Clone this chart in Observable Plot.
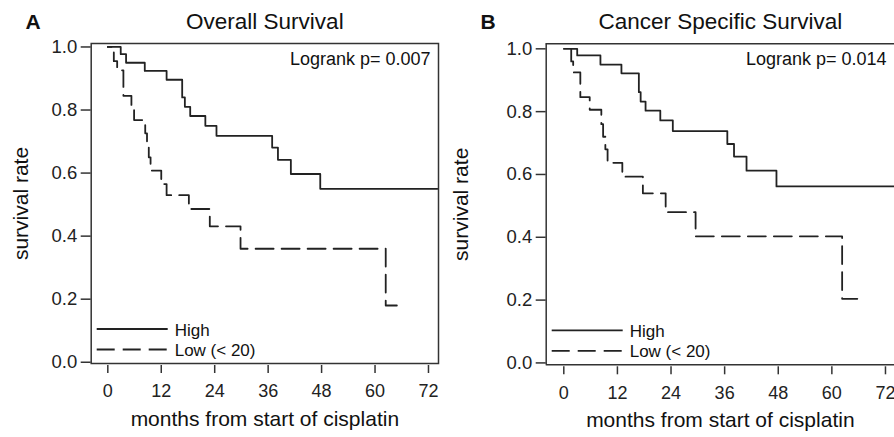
<!DOCTYPE html>
<html><head><meta charset="utf-8">
<script src="https://cdn.jsdelivr.net/npm/d3@7"></script>
<script src="https://cdn.jsdelivr.net/npm/@observablehq/plot@0.6"></script>
<style>
body{margin:0;background:#fff;}
#wrap{display:flex;width:894px;height:437px;overflow:hidden;}
</style></head><body><div id="wrap"></div>
<script>
const monthTicks = [0, 12, 24, 36, 48, 60, 72];
const rateTicks = [0, 0.2, 0.4, 0.6, 0.8, 1.0];
const groups = ["High", "Low (< 20)"];

// Panel A: Overall Survival
const osHighT = [0, 2.9, 4.1, 8.3, 13.2, 16.7, 17.3, 18.5, 21.9, 24.4, 36.9, 38.2, 41.1, 47.7, 74];
const osHighS = [1, 0.977, 0.95, 0.924, 0.896, 0.84, 0.81, 0.781, 0.75, 0.718, 0.681, 0.642, 0.597, 0.55, 0.55];
const osLowT = [0, 1.35, 2.1, 3.5, 5.3, 5.9, 8.4, 8.8, 9.2, 9.6, 12.0, 13.2, 18.2, 22.9, 29.8, 62.4, 64.9];
const osLowS = [1, 0.955, 0.926, 0.845, 0.81, 0.768, 0.726, 0.688, 0.65, 0.608, 0.565, 0.53, 0.486, 0.431, 0.36, 0.18, 0.18];

// Panel B: Cancer Specific Survival
const csHighT = [0, 3.0, 8.2, 12.9, 16.8, 17.2, 18.3, 21.6, 24.4, 36.6, 38.1, 40.9, 47.6, 74];
const csHighS = [1, 0.979, 0.95, 0.922, 0.862, 0.832, 0.803, 0.772, 0.738, 0.697, 0.657, 0.612, 0.562, 0.562];
const csLowT = [0, 1.66, 2.1, 3.7, 5.8, 8.4, 8.8, 9.3, 9.8, 13.1, 17.7, 22.8, 29.5, 62.3, 65.7];
const csLowS = [1, 0.96, 0.925, 0.846, 0.806, 0.76, 0.72, 0.68, 0.637, 0.593, 0.54, 0.48, 0.403, 0.204, 0.204];

const letters = ["A", "B"];
const titles = ["Overall Survival", "Cancer Specific Survival"];
const logranks = ["Logrank p= 0.007", "Logrank p= 0.014"];
const xLabel = "months from start of cisplatin";
const yLabel = "survival rate";

const FONT = "'Liberation Sans', Arial, Helvetica, sans-serif";
const INK = "#222";
const DASH = "18,8";

function rows(T, S, g) { return T.map((t, i) => ({t, s: S[i], g})); }

const panels = [
  {letter: letters[0], title: titles[0], logrank: logranks[0],
   high: rows(osHighT, osHighS, groups[0]), low: rows(osLowT, osLowS, groups[1]),
   ml: 90.7, mr: 9, mt: 43, mb: 74, xd: [-3.73, 74.25], yd: [-0.004, 1.011], full: true, ylabDx: -62.7},
  {letter: letters[1], title: titles[1], logrank: logranks[1],
   high: rows(csHighT, csHighS, groups[0]), low: rows(csLowT, csLowS, groups[1]),
   ml: 98.7, mr: 0, mt: 43.3, mb: 72.7, xd: [-3.94, 74.02], yd: [-0.006, 1.016], full: false, ylabDx: -77.7}
];

const W = 447, H = 437;
for (const p of panels) {
  const frameMarks = p.full
    ? [Plot.frame({stroke: "#333", strokeWidth: 1.5})]
    : [Plot.ruleY([p.yd[0], p.yd[1]], {stroke: "#333", strokeWidth: 1.5}),
       Plot.ruleX([p.xd[0]], {stroke: "#333", strokeWidth: 1.5})];
  const svg = Plot.plot({
    width: W, height: H,
    marginLeft: p.ml, marginRight: p.mr, marginTop: p.mt, marginBottom: p.mb,
    style: {fontFamily: FONT, fontSize: "18px", color: INK, background: "#fff"},
    x: {domain: p.xd},
    y: {domain: p.yd},
    marks: [
      ...frameMarks,
      Plot.axisX(monthTicks, {tickSize: 8, dy: 2, tickPadding: 11, fontSize: 18, label: null, stroke: "#333", strokeWidth: 1.5}),
      Plot.axisY(rateTicks, {tickSize: 10, tickPadding: 4, fontSize: 18.5, label: null, tickFormat: d3.format(".1f"), stroke: "#333", strokeWidth: 1.5}),
      Plot.line(p.high, {x: "t", y: "s", curve: "step-after", stroke: INK, strokeWidth: 1.8}),
      Plot.line(p.low, {x: "t", y: "s", curve: "step-after", stroke: INK, strokeWidth: 1.8, strokeDasharray: DASH}),
      Plot.text([p.title], {text: d => d, frameAnchor: "top", dy: -15, lineAnchor: "bottom", textAnchor: "middle", fontSize: 22.5, fill: "#111"}),
      Plot.text([p.letter], {text: d => d, frameAnchor: "top-left", dx: -65.7, dy: -15, lineAnchor: "bottom", textAnchor: "start", fontSize: 21, fontWeight: "bold", fill: "#111"}),
      Plot.text([p.logrank], {text: d => d, frameAnchor: "top-right", dx: -8, dy: 21, lineAnchor: "bottom", textAnchor: "end", fontSize: 18, fill: "#111"}),
      Plot.text([xLabel], {text: d => d, frameAnchor: "bottom", dy: 62, lineAnchor: "bottom", textAnchor: "middle", fontSize: 21, fill: "#111"}),
      Plot.text([yLabel], {text: d => d, frameAnchor: "left", dx: p.ylabDx, rotate: -90, lineAnchor: "bottom", textAnchor: "middle", fontSize: 21, fill: "#111"})
    ]
  });
  // legend
  const fl = p.ml, fb = H - p.mb;
  const g = d3.select(svg).append("g").attr("font-family", FONT).attr("font-size", 17)
    .attr("fill", "#111").attr("text-anchor", "start");
  const items = [{label: groups[0], dash: null, ly: fb - 34, ty: fb - 27.5},
                 {label: groups[1], dash: DASH, ly: fb - 13.5, ty: fb - 7.5}];
  for (const it of items) {
    g.append("line").attr("x1", fl + 6).attr("x2", fl + 77).attr("y1", it.ly).attr("y2", it.ly)
      .attr("stroke", INK).attr("stroke-width", 1.8).attr("stroke-dasharray", it.dash);
    g.append("text").attr("x", fl + 84).attr("y", it.ty).text(it.label);
  }
  document.getElementById("wrap").appendChild(svg);
  // make the dashed curve finish on a dash, as in the reference
  d3.select(svg).selectAll("g[stroke-dasharray] path").each(function() {
    const L = this.getTotalLength();
    const o = (((16 - L) % 26) + 26) % 26;
    this.setAttribute("stroke-dashoffset", o);
  });
}
</script>
</body></html>
